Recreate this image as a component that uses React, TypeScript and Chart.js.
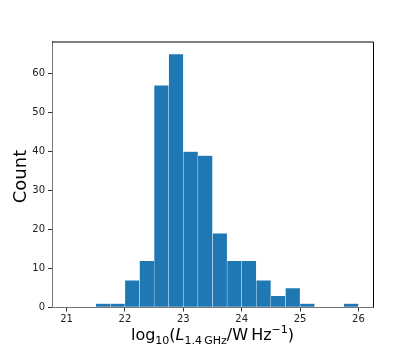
import React, { useEffect, useRef } from "react";
import { Chart, registerables } from "chart.js";

Chart.register(...registerables);

const binStarts = [21.5, 21.75, 22.0, 22.25, 22.5, 22.75, 23.0, 23.25, 23.5, 23.75, 24.0, 24.25, 24.5, 24.75, 25.0, 25.75];
const counts = [1, 1, 7, 12, 57, 65, 40, 39, 19, 12, 12, 7, 3, 5, 1, 1];
const binWidth = 0.25;
const xTicks = [21, 22, 23, 24, 25, 26];
const yTicks = [0, 10, 20, 30, 40, 50, 60];
const xRange = [20.75, 26.25];
const yRange = [0, 68.25];
const yLabel = "Count";

const FONT = "'DejaVu Sans', sans-serif";

const labelsPlugin = {
  id: "labels",
  afterDraw(chart: any) {
    const ctx = chart.ctx as CanvasRenderingContext2D;
    const a = chart.chartArea;
    ctx.save();
    // top & right spines
    ctx.strokeStyle = "#000";
    ctx.lineWidth = 1;
    ctx.beginPath();
    ctx.moveTo(a.left, a.top + 0.5);
    ctx.lineTo(a.right + 0.5, a.top + 0.5);
    ctx.lineTo(a.right + 0.5, a.bottom);
    ctx.stroke();

    // y label
    ctx.fillStyle = "#000";
    ctx.font = `18px ${FONT}`;
    ctx.textAlign = "center";
    ctx.textBaseline = "middle";
    ctx.translate(21, (a.top + a.bottom) / 2 + 2);
    ctx.rotate(-Math.PI / 2);
    ctx.fillText(yLabel, 0, 0);
    ctx.setTransform(1, 0, 0, 1, 0, 0);

    // x label with sub/superscripts
    const big = `16px ${FONT}`;
    const ital = `oblique 16px ${FONT}`;
    const small = `11px ${FONT}`;
    const parts: [string, string, number][] = [
      ["log", big, 0],
      ["10", small, 4],
      ["(", big, 0],
      ["L", ital, 0],
      ["1.4\u2009GHz", small, 4],
      ["/W\u2009Hz", big, 0],
      ["\u22121", small, -7],
      [")", big, 0],
    ];
    let total = 0;
    for (const [t, f] of parts) {
      ctx.font = f;
      total += ctx.measureText(t).width;
    }
    let x = (a.left + a.right) / 2 - total / 2;
    const base = 340;
    ctx.textAlign = "left";
    ctx.textBaseline = "alphabetic";
    for (const [t, f, dy] of parts) {
      ctx.font = f;
      ctx.fillText(t, x, base + dy);
      x += ctx.measureText(t).width;
    }
    ctx.restore();
  },
};

export default function App() {
  const ref = useRef<HTMLCanvasElement | null>(null);
  useEffect(() => {
    if (!ref.current) return;
    const data = binStarts.map((s, i) => ({ x: s + binWidth / 2, y: counts[i] }));
    const chart = new Chart(ref.current, {
      type: "bar",
      data: {
        datasets: [
          {
            data: data as any,
            backgroundColor: "#1f77b4",
            borderColor: "rgba(255,255,255,0.55)",
            borderWidth: 0.5,
            barPercentage: 1,
            categoryPercentage: 1,
            borderSkipped: false,
          },
        ],
      },
      options: {
        responsive: false,
        animation: false,
        events: [],
        layout: { padding: { top: 41.5, right: 42, left: 0, bottom: 0 } },
        plugins: { legend: { display: false }, tooltip: { enabled: false } },
        scales: {
          x: {
            type: "linear",
            offset: false,
            min: xRange[0],
            max: xRange[1],
            afterBuildTicks: (s: any) => {
              s.ticks = xTicks.map((v) => ({ value: v }));
            },
            afterFit: (s: any) => {
              s.height = 38.5;
            },
            grid: { offset: false, drawOnChartArea: false, drawTicks: true, tickLength: 4, color: "#333" },
            border: { display: true, color: "#777", width: 1 },
            ticks: { color: "#222", font: { family: FONT, size: 10 }, padding: 2, maxRotation: 0 },
          },
          y: {
            type: "linear",
            min: yRange[0],
            max: yRange[1],
            afterBuildTicks: (s: any) => {
              s.ticks = yTicks.map((v) => ({ value: v }));
            },
            afterFit: (s: any) => {
              s.width = 52;
            },
            grid: { drawOnChartArea: false, drawTicks: true, tickLength: 4, color: "#333" },
            border: { display: true, color: "#777", width: 1 },
            ticks: { color: "#222", font: { family: FONT, size: 10 }, padding: 3 },
          },
        },
      },
      plugins: [labelsPlugin],
    });
    return () => chart.destroy();
  }, []);
  return (
    <div style={{ position: "absolute", left: 0, top: 0, width: 415, height: 346, background: "#fff" }}>
      <canvas ref={ref} width={415} height={346} style={{ width: 415, height: 346, display: "block" }} />
    </div>
  );
}
